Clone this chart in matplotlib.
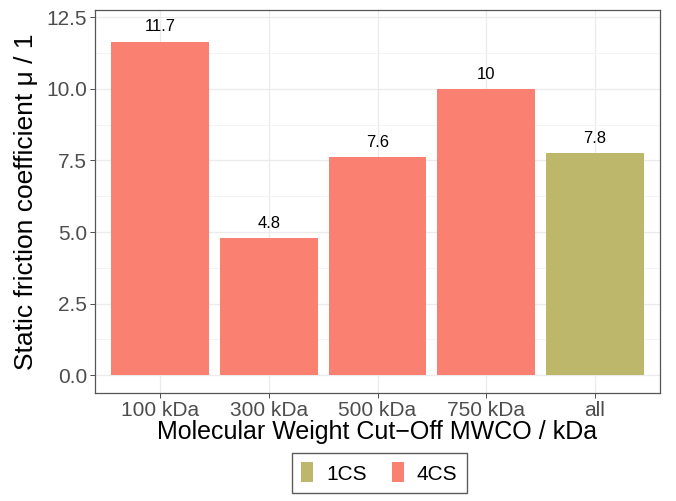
import numpy as np
import matplotlib.pyplot as plt
from matplotlib.patches import Patch
from matplotlib.ticker import MultipleLocator

# datos
categorias = ['100 kDa', '300 kDa', '500 kDa', '750 kDa', 'all']
valores = [11.65, 4.8, 7.63, 10.0, 7.76]
etiquetas = ['11.7', '4.8', '7.6', '10', '7.8']
grupo = ['4CS', '4CS', '4CS', '4CS', '1CS']

colores = {'1CS': '#BDB76B', '4CS': '#FA8072'}

plt.rcParams['font.family'] = ['Liberation Sans', 'DejaVu Sans']

fig = plt.figure(figsize=(6.76, 5.01), dpi=100)
ax = fig.add_axes([95/676, 1 - 393/501, 565/676, 383/501])

x = np.arange(len(categorias))
ax.bar(x, valores, width=0.9, color=[colores[g] for g in grupo], zorder=3)
for xi, v, t in zip(x, valores, etiquetas):
    ax.text(xi, v + 0.25, t, ha='center', va='bottom', fontsize=12, color='black', zorder=4)

ax.set_xlim(-0.6, 4.6)
ax.set_ylim(-0.62, 12.75)
ax.set_xticks(x)
ax.set_xticklabels(categorias)
ax.yaxis.set_minor_locator(MultipleLocator(1.25))
ax.set_yticks(np.arange(0, 12.6, 2.5))
ax.set_yticklabels(['0.0', '2.5', '5.0', '7.5', '10.0', '12.5'])

ax.grid(True, which='major', color='#EBEBEB', linewidth=0.9, zorder=0)
ax.grid(True, which='minor', axis='y', color='#F3F3F3', linewidth=0.6, zorder=0)
ax.tick_params(axis='both', which='major', labelsize=15, labelcolor='#4D4D4D',
               color='#4D4D4D', length=3.5, width=0.7, pad=2)
ax.tick_params(axis='both', which='minor', length=0)
for s in ax.spines.values():
    s.set_color('#555555')
    s.set_linewidth(0.9)

ax.set_xlabel('Molecular Weight Cut\u2212Off MWCO / kDa', fontsize=18, labelpad=0)
ax.set_ylabel('Static friction coefficient \u03bc / 1', fontsize=19, labelpad=6)

handles = [Patch(facecolor=colores[k], edgecolor='none', label=k) for k in ['1CS', '4CS']]
fig.legend(handles=handles, loc='center', bbox_to_anchor=(379/676, 1 - 473/501), ncol=2,
           fontsize=15, frameon=True, fancybox=False, edgecolor='#333333',
           handlelength=0.6, handleheight=1.1, handletextpad=0.6, columnspacing=1.2,
           borderpad=0.45)

plt.savefig('out.png', dpi=100)
